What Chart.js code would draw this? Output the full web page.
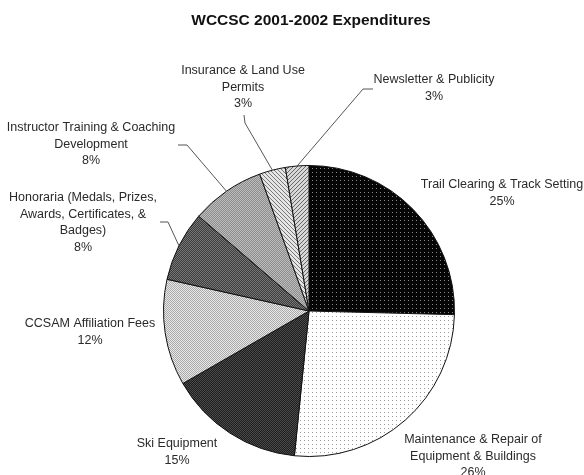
<!DOCTYPE html>
<html>
<head>
<meta charset="utf-8">
<script src="https://cdn.jsdelivr.net/npm/chart.js@4"></script>
<style>
  html, body { margin: 0; padding: 0; background: #fff; }
  #wrap { width: 584px; height: 475px; position: relative; }
</style>
</head>
<body>
<div id="wrap"><canvas id="myChart"></canvas></div>
<script>
const titleText = 'WCCSC 2001-2002 Expenditures';

const categories = [
  'Trail Clearing & Track Setting',
  'Maintenance & Repair of Equipment & Buildings',
  'Ski Equipment',
  'CCSAM Affiliation Fees',
  'Honoraria (Medals, Prizes, Awards, Certificates, & Badges)',
  'Instructor Training & Coaching Development',
  'Insurance & Land Use Permits',
  'Newsletter & Publicity'
];
// shares; printed labels are these rounded
const shares = [25.4, 26.2, 15.1, 11.8, 7.8, 8.2, 2.9, 2.6];

// wrapped label lines, as in the picture
const labelLines = [
  ['Trail Clearing & Track Setting'],
  ['Maintenance & Repair of', 'Equipment & Buildings'],
  ['Ski Equipment'],
  ['CCSAM Affiliation Fees'],
  ['Honoraria (Medals, Prizes,', 'Awards, Certificates, &', 'Badges)'],
  ['Instructor Training & Coaching', 'Development'],
  ['Insurance & Land Use', 'Permits'],
  ['Newsletter & Publicity']
];

// where each label sits (centre x, first line y) and the bend of its leader line
const labelLayout = [
  { x: 502, y: 185 },
  { x: 473, y: 440 },
  { x: 177, y: 444 },
  { x: 90,  y: 324 },
  { x: 83,  y: 198, leader: [[160, 222], [168, 222]] },
  { x: 91,  y: 128, leader: [[178, 145], [187, 145]] },
  { x: 243, y: 71,  leader: [[244, 115], [245, 123]] },
  { x: 434, y: 80,  leader: [[373, 89], [363, 89]] }
];

function makePattern(size, paint) {
  const c = document.createElement('canvas');
  c.width = size; c.height = size;
  const g = c.getContext('2d');
  paint(g, size);
  return g.createPattern(c, 'repeat');
}

function dots(bg, fg, step) {
  return makePattern(step, (g, s) => {
    g.fillStyle = bg; g.fillRect(0, 0, s, s);
    g.fillStyle = fg; g.fillRect(0, 0, 1, 1);
  });
}

function checker(a, b) {
  return makePattern(2, (g) => {
    g.fillStyle = a; g.fillRect(0, 0, 2, 2);
    g.fillStyle = b; g.fillRect(0, 0, 1, 1); g.fillRect(1, 1, 1, 1);
  });
}

function hatch(bg, fg, dir) {
  return makePattern(4, (g, s) => {
    g.fillStyle = bg; g.fillRect(0, 0, s, s);
    g.fillStyle = fg;
    for (let i = 0; i < s; i++) {
      g.fillRect(dir > 0 ? i : s - 1 - i, i, 1, 1);
    }
  });
}

const fills = [
  dots('#050505', '#8a8a8a', 4),
  dots('#ffffff', '#9a9a9a', 4),
  checker('#1e1e1e', '#4a4a4a'),
  checker('#e8e8e8', '#aaaaaa'),
  checker('#3c3c3c', '#777777'),
  checker('#8c8c8c', '#bdbdbd'),
  hatch('#e6e6e6', '#777777', 1),
  hatch('#d8d8d8', '#666666', -1)
];

const labelPlugin = {
  id: 'pieLabels',
  afterDraw(chart) {
    const ctx = chart.ctx;
    const meta = chart.getDatasetMeta(0);
    ctx.save();
    // title
    ctx.fillStyle = '#111';
    ctx.font = 'bold 15.5px "Liberation Sans", Arial, sans-serif';
    ctx.textAlign = 'center';
    ctx.textBaseline = 'middle';
    ctx.fillText(titleText, 311, 21);

    ctx.font = '12.5px "Liberation Sans", Arial, sans-serif';
    meta.data.forEach((arc, i) => {
      const p = arc.getProps(['x', 'y', 'startAngle', 'endAngle', 'outerRadius'], true);
      const lay = labelLayout[i];
      const lines = labelLines[i].concat([Math.round(shares[i]) + '%']);
      ctx.fillStyle = '#2a2a2a';
      lines.forEach((t, k) => ctx.fillText(t, lay.x, lay.y + k * 16.5));
      if (lay.leader) {
        const mid = (p.startAngle + p.endAngle) / 2;
        const ex = p.x + Math.cos(mid) * p.outerRadius;
        const ey = p.y + Math.sin(mid) * p.outerRadius;
        ctx.strokeStyle = '#555';
        ctx.lineWidth = 1;
        ctx.beginPath();
        ctx.moveTo(lay.leader[0][0], lay.leader[0][1]);
        ctx.lineTo(lay.leader[1][0], lay.leader[1][1]);
        ctx.lineTo(ex, ey);
        ctx.stroke();
      }
    });
    ctx.restore();
  }
};

new Chart(document.getElementById('myChart').getContext('2d'), {
  type: 'pie',
  data: {
    labels: categories,
    datasets: [{
      data: shares,
      backgroundColor: fills,
      borderColor: '#111',
      borderWidth: 1
    }]
  },
  options: {
    responsive: true,
    maintainAspectRatio: false,
    animation: false,
    layout: { padding: { left: 163, top: 165, right: 129, bottom: 18 } },
    plugins: {
      legend: { display: false },
      tooltip: { enabled: false },
      title: { display: false }
    }
  },
  plugins: [labelPlugin]
});
</script>
</body>
</html>
